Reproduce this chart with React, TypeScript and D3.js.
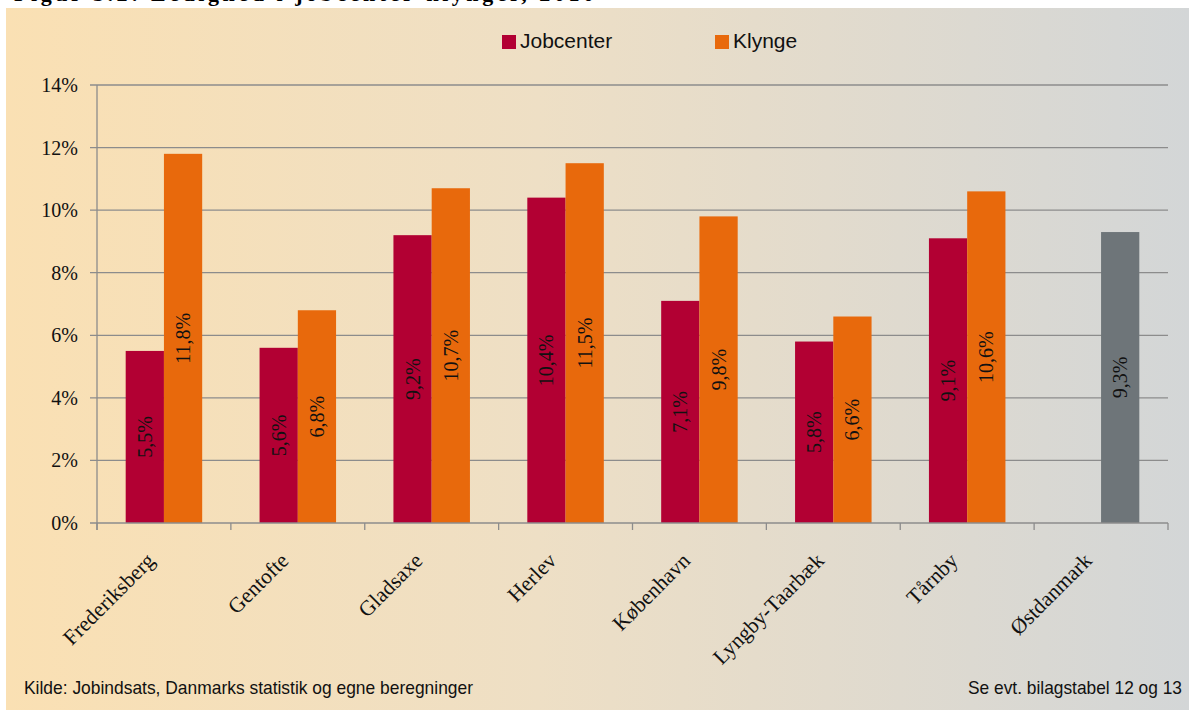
import React from 'react';
import * as d3 from 'd3';

const categories = ['Frederiksberg', 'Gentofte', 'Gladsaxe', 'Herlev', 'København', 'Lyngby-Taarbæk', 'Tårnby', 'Østdanmark'];
const jobcenter: (number | null)[] = [5.5, 5.6, 9.2, 10.4, 7.1, 5.8, 9.1, null];
const klynge: number[] = [11.8, 6.8, 10.7, 11.5, 9.8, 6.6, 10.6, 9.3];
const yTicks = [0, 2, 4, 6, 8, 10, 12, 14];
const seriesNames = ['Jobcenter', 'Klynge'];

const W = 1189;
const H = 710;
const RED = '#B20033';
const ORANGE = '#E8690C';
const GRAY = '#6E7579';
const GRID = '#8C8C8C';
const serif = '"Liberation Serif", "Times New Roman", serif';
const sans = '"Liberation Sans", Arial, sans-serif';
const narrow = '"Liberation Sans Narrow", "Arial Narrow", ' + sans;

const fmt = (v: number) => v.toFixed(1).replace('.', ',') + '%';

export default function App() {
  const margin = { left: 97, right: 21, top: 85, bottom: 187 };
  const x0 = d3.scaleBand<string>()
    .domain(categories)
    .range([margin.left, W - margin.right])
    .paddingInner(0)
    .paddingOuter(0);
  // two bar slots per group, with wide gaps at both sides
  const x1 = d3.scaleBand<string>()
    .domain(seriesNames)
    .range([0, x0.bandwidth()])
    .paddingOuter(0.75)
    .paddingInner(0);
  const y = d3.scaleLinear().domain([0, 14]).range([H - margin.bottom, margin.top]);
  const y0 = y(0);

  const bars: { key: string; x: number; v: number; color: string }[] = [];
  categories.forEach((c, i) => {
    const j = jobcenter[i];
    if (j != null) bars.push({ key: c + 'j', x: x0(c)! + x1('Jobcenter')!, v: j, color: RED });
    const k = klynge[i];
    bars.push({ key: c + 'k', x: x0(c)! + x1('Klynge')!, v: k, color: c === 'Østdanmark' ? GRAY : ORANGE });
  });
  const bw = x1.bandwidth();
  const boundaries = [...categories.map(c => x0(c)!), x0.range()[1]];

  return (
    <svg width={W} height={H} style={{ position: 'absolute', left: 0, top: 0 }}>
      <defs>
        <linearGradient id="bg" x1="0" x2="1" y1="0" y2="0">
          <stop offset="0" stopColor="#FAE0B3" />
          <stop offset="0.45" stopColor="#EEDFC5" />
          <stop offset="1" stopColor="#D3D6D7" />
        </linearGradient>
      </defs>
      <rect x={0} y={0} width={W} height={H} fill="#ffffff" />
      {/* title, cut off by the top edge as in the source */}
      <text x={14} y={1} fontFamily={serif} fontWeight="bold" fontSize={22} fill="#000"
        textLength={580} lengthAdjust="spacing">
        Figur 3.2: Ledighed i jobcenter-klynger, 2010
      </text>
      <rect x={6} y={8} width={W - 6} height={H - 8} fill="url(#bg)" />

      {/* grid */}
      {yTicks.filter(t => t > 0).map(t => (
        <line key={t} x1={margin.left - 7} x2={W - margin.right} y1={y(t)} y2={y(t)} stroke={GRID} strokeWidth={1.3} />
      ))}
      {yTicks.map(t => (
        <text key={'l' + t} x={margin.left - 19} y={y(t)} dy="0.35em" textAnchor="end" fontFamily={serif} fontSize={20} fill="#111">
          {t}%
        </text>
      ))}

      {/* bars */}
      {bars.map(b => (
        <rect key={b.key} x={b.x} y={y(b.v)} width={bw} height={y0 - y(b.v)} fill={b.color} />
      ))}
      {bars.map(b => {
        const cx = b.x + bw / 2;
        const cy = (y(b.v) + y0) / 2;
        return (
          <text key={'t' + b.key} transform={`translate(${cx},${cy}) rotate(-90)`} textAnchor="middle" dy="0.35em"
            fontFamily={serif} fontSize={20} fill="#111">
            {fmt(b.v)}
          </text>
        );
      })}

      {/* axes */}
      <line x1={margin.left - 7} x2={W - margin.right} y1={y0} y2={y0} stroke={GRID} strokeWidth={1.3} />
      <line x1={margin.left} x2={margin.left} y1={margin.top} y2={y0 + 7} stroke={GRID} strokeWidth={1.3} />
      {boundaries.map((bx, i) => (
        <line key={'tk' + i} x1={bx} x2={bx} y1={y0} y2={y0 + 7} stroke={GRID} strokeWidth={1.3} />
      ))}
      {categories.map(c => {
        const cx = x0(c)! + x0.bandwidth() / 2;
        return (
          <text key={'c' + c} transform={`translate(${cx - 8},${y0 + 39}) rotate(-45)`} textAnchor="end"
            fontFamily={serif} fontSize={21.5} fill="#111">
            {c}
          </text>
        );
      })}

      {/* legend */}
      <rect x={502} y={35} width={14} height={14} fill={RED} />
      <text x={520} y={48} fontFamily={sans} fontSize={21} fill="#111">Jobcenter</text>
      <rect x={715} y={35} width={14} height={14} fill={ORANGE} />
      <text x={733} y={48} fontFamily={sans} fontSize={21} fill="#111">Klynge</text>

      {/* footer */}
      <text x={24} y={694} fontFamily={narrow} fontSize={19}
        textLength={449} lengthAdjust="spacingAndGlyphs" fill="#111">
        Kilde: Jobindsats, Danmarks statistik og egne beregninger
      </text>
      <text x={968} y={694} fontFamily={narrow} fontSize={19}
        textLength={214} lengthAdjust="spacingAndGlyphs" fill="#111">
        Se evt. bilagstabel 12 og 13
      </text>
    </svg>
  );
}
